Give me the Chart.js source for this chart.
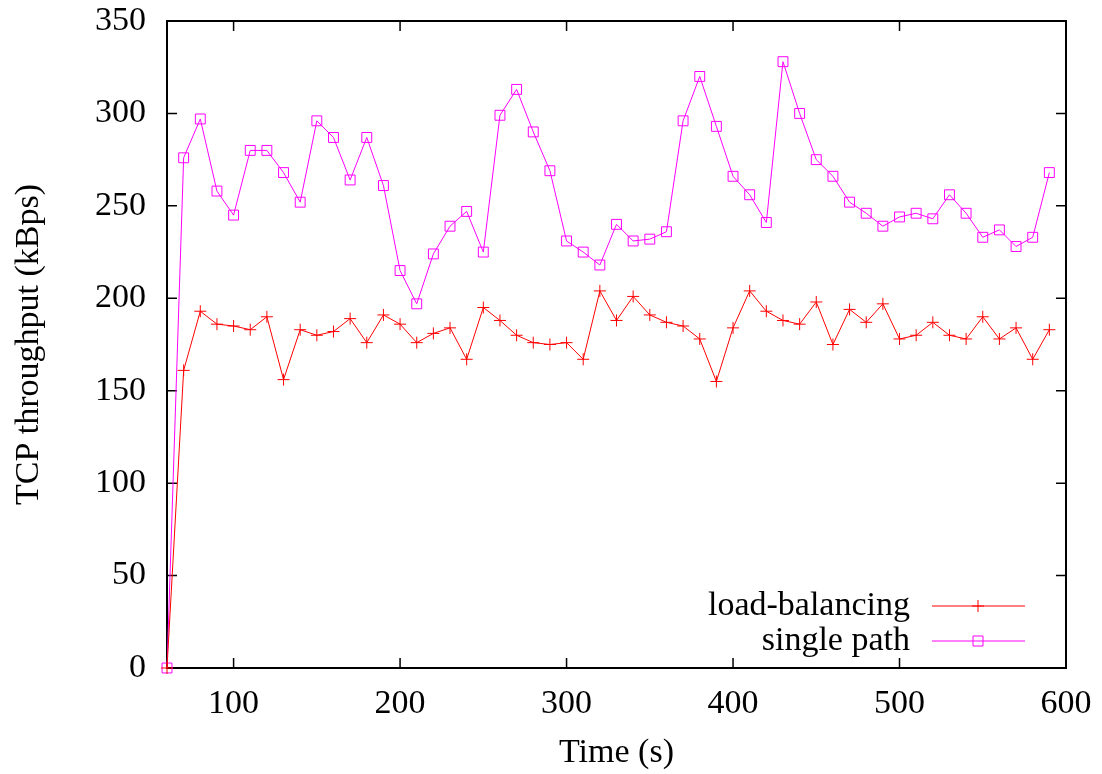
<!DOCTYPE html>
<html>
<head>
<meta charset="utf-8">
<script src="https://cdn.jsdelivr.net/npm/chart.js"></script>
<style>
	html, body { margin: 0; padding: 0; background: #fff; }
	#wrap { width: 1102px; height: 774px; }
</style>
</head>
<body>
<div id="wrap"><canvas id="chart" width="1102" height="774"></canvas></div>
<script>
const times = [60, 70, 80, 90, 100, 110, 120, 130, 140, 150, 160, 170, 180, 190, 200,
	210, 220, 230, 240, 250, 260, 270, 280, 290, 300, 310, 320, 330, 340, 350, 360,
	370, 380, 390, 400, 410, 420, 430, 440, 450, 460, 470, 480, 490, 500, 510, 520,
	530, 540, 550, 560, 570, 580, 590]

const loadBalancing = [0, 161, 193, 186, 185, 183, 190, 156, 183, 180, 182, 189, 176, 191, 186,
	176, 181, 184, 167, 195, 188, 180, 176, 175, 176, 167, 204, 188, 201, 191, 187,
	185, 178, 155, 184, 204, 193, 188, 186, 198, 175, 194, 187, 197, 178, 180, 187,
	180, 178, 190, 178, 184, 167, 183]

const singlePath = [0, 276, 297, 258, 245, 280, 280, 268, 252, 296, 287, 264, 287, 261, 215,
	197, 224, 239, 247, 225, 299, 313, 290, 269, 231, 225, 218, 240, 231, 232, 236,
	296, 320, 293, 266, 256, 241, 328, 300, 275, 266, 252, 246, 239, 244, 246, 243,
	256, 246, 233, 237, 228, 233, 268]

const xTicks = [100, 200, 300, 400, 500, 600]
const yTicks = [0, 50, 100, 150, 200, 250, 300, 350]

const FONT = "'Liberation Serif', 'Times New Roman', serif"
const FS = 34

const toPoints = (ys) => ys.map((y, i) => ({ x: times[i], y: y }))

// gnuplot style box with inward ticks on all sides
const frame = {
	id: "frame",
	beforeDatasetsDraw(chart) {
		const { ctx, chartArea: a, scales } = chart
		ctx.save()
		ctx.strokeStyle = "#000"
		ctx.lineWidth = 2
		ctx.strokeRect(a.left, a.top, a.right - a.left, a.bottom - a.top)
		ctx.lineWidth = 1.5
		ctx.beginPath()
		xTicks.forEach((v) => {
			const px = scales.x.getPixelForValue(v)
			ctx.moveTo(px, a.bottom)
			ctx.lineTo(px, a.bottom - 10)
			ctx.moveTo(px, a.top)
			ctx.lineTo(px, a.top + 10)
		})
		yTicks.forEach((v) => {
			const py = scales.y.getPixelForValue(v)
			ctx.moveTo(a.left, py)
			ctx.lineTo(a.left + 10, py)
			ctx.moveTo(a.right, py)
			ctx.lineTo(a.right - 10, py)
		})
		ctx.stroke()
		ctx.restore()
	},
}

// legend drawn like gnuplot's: label right aligned, then the line sample
const keyBox = {
	id: "keyBox",
	afterDraw(chart) {
		const { ctx } = chart
		const rows = [606, 641]
		ctx.save()
		ctx.font = FS + "px " + FONT
		ctx.textAlign = "right"
		ctx.textBaseline = "middle"
		chart.data.datasets.forEach((ds, i) => {
			const y = rows[i]
			ctx.fillStyle = "#000"
			ctx.fillText(ds.label, 910, y)
			ctx.strokeStyle = ds.borderColor
			ctx.lineWidth = 1
			ctx.beginPath()
			ctx.moveTo(932, y)
			ctx.lineTo(1025, y)
			ctx.stroke()
			const mx = 978
			ctx.beginPath()
			if (ds.pointStyle === "cross") {
				ctx.moveTo(mx, y - 6)
				ctx.lineTo(mx, y + 6)
				ctx.moveTo(mx - 6, y)
				ctx.lineTo(mx + 6, y)
			} else {
				ctx.rect(mx - 5, y - 5, 10, 10)
			}
			ctx.stroke()
		})
		ctx.restore()
	},
}

new Chart(document.getElementById("chart"), {
	type: "line",
	data: {
		datasets: [
			{
				label: "load-balancing",
				data: toPoints(loadBalancing),
				borderColor: "#ff0000",
				backgroundColor: "#ff0000",
				borderWidth: 1,
				pointStyle: "cross",
				pointRadius: 6,
				pointBorderWidth: 1,
				pointHoverRadius: 6,
				tension: 0,
				clip: false,
			},
			{
				label: "single path",
				data: toPoints(singlePath),
				borderColor: "#ff00ff",
				backgroundColor: "rgba(0,0,0,0)",
				borderWidth: 1,
				pointStyle: "rect",
				pointRadius: 7,
				pointBorderWidth: 1,
				pointHoverRadius: 7,
				tension: 0,
				clip: false,
			},
		],
	},
	options: {
		responsive: false,
		animation: false,
		events: [],
		layout: { padding: { left: 0, top: 21, right: 36, bottom: 0 } },
		plugins: {
			legend: { display: false },
			tooltip: { enabled: false },
		},
		scales: {
			x: {
				type: "linear",
				min: 60,
				max: 600,
				grid: { display: false, drawTicks: false },
				border: { display: false },
				ticks: {
					stepSize: 100,
					includeBounds: false,
					padding: 16,
					color: "#000",
					font: { family: FONT, size: FS },
					maxRotation: 0,
				},
				title: {
					display: true,
					text: "Time (s)",
					color: "#000",
					font: { family: FONT, size: FS },
					padding: { top: 0, bottom: 1 },
				},
				afterFit: (s) => {
					s.height = 106
					s.paddingLeft = 0
					s.paddingRight = 0
				},
			},
			y: {
				min: 0,
				max: 350,
				grid: { display: false, drawTicks: false },
				border: { display: false },
				ticks: {
					stepSize: 50,
					padding: 21,
					color: "#000",
					font: { family: FONT, size: FS },
				},
				title: {
					display: true,
					text: "TCP throughput (kBps)",
					color: "#000",
					font: { family: FONT, size: FS },
					padding: { top: 9, bottom: 0 },
				},
				afterFit: (s) => {
					s.width = 167
					s.paddingTop = 0
					s.paddingBottom = 0
				},
			},
		},
	},
	plugins: [frame, keyBox],
})
</script>
</body>
</html>
